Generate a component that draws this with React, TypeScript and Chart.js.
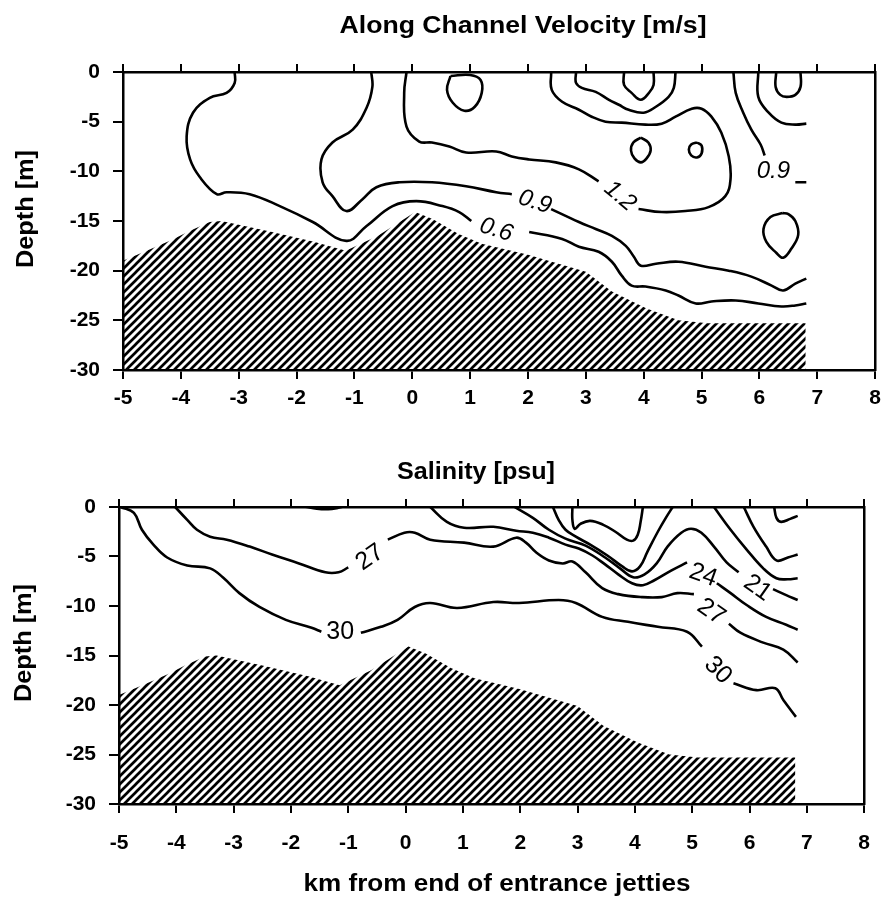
import React, { useEffect, useRef } from 'react';
import { Chart, registerables } from 'chart.js';

Chart.register(...registerables);

type Pt = [number, number] | null;

// ---------- axis ranges / ticks ----------
const kmRange = [-5, 8];
const kmStep = 1;
const depthRange = [-30, 0];
const depthStep = 5;

// ---------- texts ----------
const velTitle = 'Along Channel Velocity [m/s]';
const salTitle = 'Salinity [psu]';
const yTitle = 'Depth [m]';
const xTitle = 'km from end of entrance jetties';

// ---------- bathymetry (km, depth m) ----------
const bathyKm = [-5.0, -4.55, -4.15, -3.85, -3.5, -3.3, -2.5, -1.7, -1.15, -0.6, 0.05, 0.35, 0.8, 1.2, 2.0, 3.0, 3.45, 4.05, 4.6, 5.1, 6.8];
const bathyDepth = [-19.0, -17.9, -16.9, -16.0, -15.1, -15.0, -16.0, -17.1, -18.0, -16.5, -14.1, -14.8, -16.3, -17.3, -18.4, -20.1, -22.1, -23.8, -25.0, -25.3, -25.3];

// ---------- velocity contours [km, depth]; null = label gap ----------
const vel06: Pt[] = [[-3.07, 0], [-3.07, -1.1], [-3.21, -2.1], [-3.5, -2.6], [-3.79, -4.1], [-3.9, -6.5], [-3.84, -8.8], [-3.67, -10.6], [-3.38, -12.3], [-3.21, -12.1], [-2.81, -12.3], [-2.29, -13.5], [-1.72, -15.1], [-1.14, -17.0], [-0.79, -15.5], [-0.34, -13.5], [0.07, -13.0], [0.52, -13.5], [0.81, -14.1], [1.02, -15.0], null, [2.02, -16.1], [2.59, -16.8], [2.88, -17.6], [3.22, -18.1], [3.45, -19.1], [3.62, -20.5], [3.79, -21.5], [4.03, -21.6], [4.38, -22.0], [4.6, -22.5], [4.9, -23.3], [5.17, -23.1], [5.59, -23.0], [5.98, -23.3], [6.38, -23.6], [6.62, -23.5], [6.81, -23.3]];
const vel09: Pt[] = [[-0.71, 0], [-0.69, -1.5], [-0.79, -3.6], [-1.03, -5.8], [-1.38, -7.1], [-1.57, -8.8], [-1.55, -11.1], [-1.38, -12.5], [-1.14, -14.0], [-0.86, -12.8], [-0.62, -11.6], [-0.22, -11.1], [0.34, -11.1], [0.93, -11.5], [1.45, -12.1], [1.72, -12.3], null, [2.4, -13.8], [2.88, -15.1], [3.17, -15.8], [3.45, -16.5], [3.69, -17.5], [3.83, -18.6], [3.95, -19.5], [4.21, -19.3], [4.6, -19.1], [5.07, -19.6], [5.47, -20.0], [5.86, -20.6], [6.21, -21.5], [6.41, -22.0], [6.62, -21.3], [6.81, -20.8]];
const vel12: Pt[] = [[-0.1, 0], [-0.14, -2.1], [-0.1, -5.5], [0.12, -7.0], [0.34, -7.1], [0.64, -7.5], [0.93, -8.1], [1.45, -8.0], [1.72, -8.5], [2.02, -8.8], [2.48, -9.1], [2.88, -9.8], [3.22, -11.0], null, [3.91, -13.8], [4.31, -14.1], [4.72, -14.0], [5.12, -13.6], [5.41, -12.5], [5.5, -10.8], [5.47, -8.5], [5.34, -6.1], [5.17, -4.5], [5.0, -3.7], [4.83, -3.7], [4.55, -4.5], [4.31, -5.2], [4.03, -5.3], [3.62, -5.1], [3.34, -5.0], [3.1, -4.5], [2.88, -3.8], [2.59, -3.0], [2.41, -1.8], [2.4, 0]];
const vel15: Pt[] = [[2.83, 0], [2.83, -1.1], [2.93, -1.6], [3.17, -2.0], [3.4, -2.8], [3.57, -3.3], [3.74, -3.8], [4.0, -4.1], [4.21, -3.5], [4.43, -2.5], [4.52, -1.6], [4.55, 0]];
const velCapA: Pt[] = [[3.66, 0], [3.66, -1.3], [3.79, -2.1], [3.95, -2.8], [4.09, -2.1], [4.17, -1.3], [4.17, 0]];
const velRingA: Pt[] = [[3.95, -6.6], [4.08, -7.1], [4.12, -7.9], [4.05, -8.7], [3.95, -9.1], [3.84, -8.7], [3.78, -7.9], [3.82, -7.1], [3.95, -6.6]];
const velRingB: Pt[] = [[4.92, -7.1], [5.0, -7.4], [5.0, -8.2], [4.92, -8.6], [4.82, -8.4], [4.78, -7.8], [4.82, -7.3], [4.92, -7.1]];
const velRingC: Pt[] = [[0.66, -0.4], [0.6, -1.8], [0.7, -3.1], [0.9, -3.9], [1.08, -3.5], [1.2, -2.1], [1.18, -0.8], [1.0, -0.3], [0.66, -0.4]];
const velEastA: Pt[] = [[5.55, 0], [5.59, -2.1], [5.72, -4.1], [5.86, -5.8], [6.02, -7.3], [6.09, -8.4], null, [6.62, -11.1], [6.81, -11.1]];
const velEastB: Pt[] = [[5.98, 0], [5.98, -2.5], [6.16, -4.1], [6.38, -5.1], [6.62, -5.3], [6.81, -5.2]];
const velCapB: Pt[] = [[6.29, 0], [6.28, -1.5], [6.36, -2.3], [6.47, -2.5], [6.62, -2.3], [6.71, -1.5], [6.71, 0]];
const velDrop: Pt[] = [[6.4, -14.2], [6.19, -14.6], [6.07, -15.8], [6.12, -17.1], [6.29, -18.2], [6.41, -18.7], [6.55, -17.8], [6.67, -16.4], [6.62, -15.0], [6.5, -14.3], [6.4, -14.2]];

const velLabelText = ['0.6', '0.9', '1.2', '0.9'];
const velLabelKm = [1.45, 2.12, 3.59, 6.24];
const velLabelDepth = [-15.9, -13.1, -12.5, -10.0];
const velLabelAngle = [18, 18, 40, 0];

// ---------- salinity contours ----------
const sal30: Pt[] = [[-4.97, 0], [-4.74, -0.6], [-4.6, -2.3], [-4.4, -3.8], [-4.16, -5.1], [-3.81, -5.9], [-3.41, -6.2], [-3.19, -7.1], [-2.9, -8.7], [-2.55, -10.1], [-2.09, -11.4], [-1.64, -12.2], [-1.47, -12.6], null, [-0.78, -12.7], [-0.43, -12.1], [-0.14, -11.4], [0.16, -10.1], [0.43, -9.7], [0.9, -10.2], [1.53, -9.6], [1.98, -9.7], [2.67, -9.4], [2.97, -9.7], [3.43, -11.1], [3.88, -11.6], [4.4, -12.1], [4.91, -12.6], [5.17, -14.1], null, [5.72, -17.8], [6.12, -18.5], [6.45, -18.3], [6.59, -19.5], [6.81, -21.2]];
const sal27: Pt[] = [[-4.02, 0], [-3.81, -1.3], [-3.64, -2.3], [-3.41, -3.0], [-3.12, -3.3], [-2.72, -4.0], [-2.33, -4.8], [-1.86, -5.7], [-1.4, -6.6], [-1.17, -6.6], [-1.0, -6.1], null, [-0.31, -3.3], [-0.02, -2.6], [0.16, -2.6], [0.43, -3.3], [1.02, -3.6], [1.53, -4.0], [1.93, -3.1], [2.1, -3.6], [2.28, -4.6], [2.5, -5.4], [2.74, -5.7], [2.91, -5.5], [3.14, -6.6], [3.43, -8.2], [3.71, -8.8], [4.12, -9.1], [4.47, -9.1], [4.74, -8.7], [5.03, -8.8], null, [5.64, -11.8], [5.84, -12.7], [6.24, -13.7], [6.59, -14.4], [6.84, -15.7]];
const sal24: Pt[] = [[0.43, 0], [0.72, -1.5], [1.02, -2.1], [1.53, -2.0], [1.93, -2.4], [2.22, -2.6], [2.5, -3.1], [2.79, -3.8], [3.02, -4.2], [3.26, -4.9], [3.48, -5.8], [3.71, -6.8], [3.95, -7.7], [4.14, -7.9], [4.34, -7.4], [4.64, -6.4], [4.91, -5.6], null, [5.43, -7.7], [5.67, -8.7], [5.95, -9.9], [6.29, -11.1], [6.64, -11.9], [6.84, -12.4]];
const sal21: Pt[] = [[1.9, 0], [2.22, -1.1], [2.5, -2.3], [2.79, -3.2], [3.14, -3.9], [3.48, -5.1], [3.74, -6.2], [3.97, -7.1], [4.17, -6.8], [4.38, -5.7], [4.57, -4.0], [4.81, -2.6], [4.98, -2.2], [5.16, -2.6], [5.38, -4.0], [5.6, -5.6], [5.81, -6.6], null, [6.41, -8.3], [6.64, -8.9], [6.84, -9.4]];
const salVee: Pt[] = [[2.57, 0], [2.67, -1.3], [2.79, -2.3], [2.97, -3.0], [3.22, -3.8], [3.52, -4.9], [3.78, -6.0], [3.95, -6.5], [4.09, -6.0], [4.22, -4.5], [4.4, -2.5], [4.55, -1.0], [4.66, 0]];
const salCap: Pt[] = [[2.91, 0], [2.91, -1.3], [2.95, -2.2], [3.05, -1.7], [3.22, -1.4], [3.45, -1.8], [3.66, -2.5], [3.86, -3.3], [3.97, -3.4], [4.05, -2.8], [4.1, -1.5], [4.14, 0]];
const salEastA: Pt[] = [[5.38, 0], [5.67, -2.3], [5.95, -4.3], [6.24, -6.2], [6.47, -7.2], [6.67, -7.3], [6.84, -7.2]];
const salEastB: Pt[] = [[5.9, 0], [6.07, -2.0], [6.29, -4.0], [6.47, -5.4], [6.67, -5.1], [6.84, -4.8]];
const salHook: Pt[] = [[6.43, 0], [6.47, -1.1], [6.55, -1.5], [6.71, -1.2], [6.84, -0.9]];
const salLens: Pt[] = [[-1.75, 0], [-1.55, -0.2], [-1.35, -0.25], [-1.2, -0.15], [-1.1, 0]];

const salLabelText = ['30', '27', '24', '21', '27', '30'];
const salLabelKm = [-1.14, -0.62, 5.19, 6.14, 5.33, 5.45];
const salLabelDepth = [-12.6, -5.1, -6.9, -8.2, -10.6, -16.5];
const salLabelAngle = [0, -35, 20, 35, 35, 45];

// ---------- helpers ----------
const FAM = "'Liberation Sans', Arial, Helvetica, sans-serif";

function toData(pts: Pt[]) {
  return pts.map((p, i) => {
    if (p) return { x: p[0], y: p[1] };
    const prev = pts[i - 1] as [number, number];
    return { x: prev[0], y: null as any };
  });
}

function makeHatch(): CanvasPattern | string {
  const c = document.createElement('canvas');
  const s = 8;
  c.width = s;
  c.height = s;
  const g = c.getContext('2d');
  if (!g) return '#000';
  g.strokeStyle = '#000';
  g.lineWidth = 2.7;
  g.lineCap = 'square';
  g.beginPath();
  for (const k of [-1, 0, 1]) {
    g.moveTo(k * s, s);
    g.lineTo(k * s + s, 0);
  }
  g.stroke();
  return g.createPattern(c, 'repeat') || '#000';
}

function drawFit(ctx: CanvasRenderingContext2D, text: string, cx: number, cy: number, width: number, angle: number) {
  ctx.save();
  ctx.font = `bold 23px ${FAM}`;
  const w = ctx.measureText(text).width;
  ctx.translate(cx, cy);
  ctx.rotate(angle);
  ctx.scale(width / w, 1);
  ctx.textAlign = 'center';
  ctx.textBaseline = 'alphabetic';
  ctx.fillStyle = '#000';
  ctx.fillText(text, 0, 0);
  ctx.restore();
}

interface PanelCfg {
  height: number;
  plotTop: number;
  plotBottom: number;
  plotLeft: number;
  plotRight: number;
  xLabelPad: number;
  contours: Pt[][];
  thick: Pt[][];
  labels: { text: string[]; km: number[]; depth: number[]; angle: number[]; font: string };
  titles: { text: string; cx: number; cy: number; width: number; angle: number }[];
}

function buildChart(canvas: HTMLCanvasElement, cfg: PanelCfg) {
  const hatch = makeHatch();
  const tickFont = { family: FAM, size: 21, weight: 'bold' as const };
  const black = '#000';
  const datasets: any[] = [
    {
      data: bathyKm.map((k, i) => ({ x: k, y: bathyDepth[i] })),
      borderColor: 'rgba(0,0,0,0)',
      borderWidth: 1,
      backgroundColor: hatch,
      fill: { value: depthRange[0] },
      pointRadius: 0,
      tension: 0,
    },
    ...cfg.contours.map((c) => ({
      data: toData(c),
      borderColor: black,
      borderWidth: 2.6,
      pointRadius: 0,
      tension: 0.4,
      fill: false,
      spanGaps: false,
    })),
    ...cfg.thick.map((c) => ({
      data: toData(c),
      borderColor: black,
      backgroundColor: black,
      borderWidth: 2,
      pointRadius: 0,
      tension: 0.4,
      fill: true,
    })),
  ];

  const textPlugin = {
    id: 'panelTexts',
    afterDraw(chart: any) {
      const ctx: CanvasRenderingContext2D = chart.ctx;
      const xs = chart.scales.x;
      const ys = chart.scales.y;
      ctx.save();
      ctx.fillStyle = '#000';
      const L = cfg.labels;
      L.text.forEach((t, i) => {
        ctx.save();
        ctx.translate(xs.getPixelForValue(L.km[i]), ys.getPixelForValue(L.depth[i]));
        ctx.rotate((L.angle[i] * Math.PI) / 180);
        ctx.font = L.font;
        ctx.textAlign = 'center';
        ctx.textBaseline = 'middle';
        ctx.fillText(t, 0, 0);
        ctx.restore();
      });
      cfg.titles.forEach((tt) => drawFit(ctx, tt.text, tt.cx, tt.cy, tt.width, tt.angle));
      ctx.restore();
    },
  };

  const axisBorder = { display: true, color: black, width: 2.5 };

  return new Chart(canvas, {
    type: 'line',
    data: { datasets },
    options: {
      responsive: false,
      animation: false,
      events: [],
      layout: {
        padding: { top: cfg.plotTop - 8, left: 0, right: 888 - cfg.plotRight, bottom: 0 },
      },
      plugins: { legend: { display: false }, tooltip: { enabled: false }, title: { display: false } },
      scales: {
        x: {
          type: 'linear',
          position: 'bottom',
          min: kmRange[0],
          max: kmRange[1],
          ticks: { stepSize: kmStep, font: tickFont, color: black, padding: cfg.xLabelPad, maxRotation: 0, autoSkip: false },
          grid: { drawOnChartArea: false, drawTicks: true, tickLength: 9, color: black, lineWidth: 2 },
          border: axisBorder,
          afterFit: (s: any) => {
            s.height = cfg.height - cfg.plotBottom;
          },
        },
        x2: {
          type: 'linear',
          position: 'top',
          min: kmRange[0],
          max: kmRange[1],
          ticks: { stepSize: kmStep, display: false },
          grid: { drawOnChartArea: false, drawTicks: true, tickLength: 8, color: black, lineWidth: 2 },
          border: axisBorder,
          afterFit: (s: any) => {
            s.height = 8;
          },
        },
        y: {
          type: 'linear',
          position: 'left',
          min: depthRange[0],
          max: depthRange[1],
          ticks: { stepSize: depthStep, font: tickFont, color: black, padding: 13 },
          grid: { drawOnChartArea: false, drawTicks: true, tickLength: 10, color: black, lineWidth: 2 },
          border: axisBorder,
          afterFit: (s: any) => {
            s.width = cfg.plotLeft;
          },
        },
        y2: {
          type: 'linear',
          position: 'right',
          min: depthRange[0],
          max: depthRange[1],
          ticks: { display: false },
          grid: { display: false },
          border: axisBorder,
          afterFit: (s: any) => {
            s.width = 0;
          },
        },
      },
    } as any,
    plugins: [textPlugin],
  });
}

const velCfg: PanelCfg = {
  height: 440,
  plotTop: 72,
  plotBottom: 370,
  plotLeft: 123,
  plotRight: 877,
  xLabelPad: 7,
  contours: [vel06, vel09, vel12, vel15, velCapA, velRingA, velRingB, velRingC, velEastA, velEastB, velCapB, velDrop],
  thick: [],
  labels: { text: velLabelText, km: velLabelKm, depth: velLabelDepth, angle: velLabelAngle, font: `italic 24px ${FAM}` },
  titles: [
    { text: velTitle, cx: 523, cy: 33, width: 367, angle: 0 },
    { text: yTitle, cx: 33, cy: 209, width: 118, angle: -Math.PI / 2 },
  ],
};

const salCfg: PanelCfg = {
  height: 467,
  plotTop: 67,
  plotBottom: 364,
  plotLeft: 119,
  plotRight: 873,
  xLabelPad: 18,
  contours: [sal30, sal27, sal24, sal21, salVee, salCap, salEastA, salEastB, salHook],
  thick: [salLens],
  labels: { text: salLabelText, km: salLabelKm, depth: salLabelDepth, angle: salLabelAngle, font: `25px ${FAM}` },
  titles: [
    { text: salTitle, cx: 476, cy: 39, width: 158, angle: 0 },
    { text: yTitle, cx: 31, cy: 203, width: 118, angle: -Math.PI / 2 },
    { text: xTitle, cx: 497, cy: 451, width: 387, angle: 0 },
  ],
};

export default function App() {
  const topRef = useRef<HTMLCanvasElement>(null);
  const botRef = useRef<HTMLCanvasElement>(null);

  useEffect(() => {
    const charts: Chart[] = [];
    if (topRef.current) charts.push(buildChart(topRef.current, velCfg));
    if (botRef.current) charts.push(buildChart(botRef.current, salCfg));
    return () => charts.forEach((c) => c.destroy());
  }, []);

  return (
    <div style={{ position: 'absolute', left: 0, top: 0, width: 888, height: 907, background: '#fff' }}>
      <canvas ref={topRef} width={888} height={440} style={{ position: 'absolute', left: 0, top: 0 }} />
      <canvas ref={botRef} width={888} height={467} style={{ position: 'absolute', left: 0, top: 440 }} />
    </div>
  );
}
